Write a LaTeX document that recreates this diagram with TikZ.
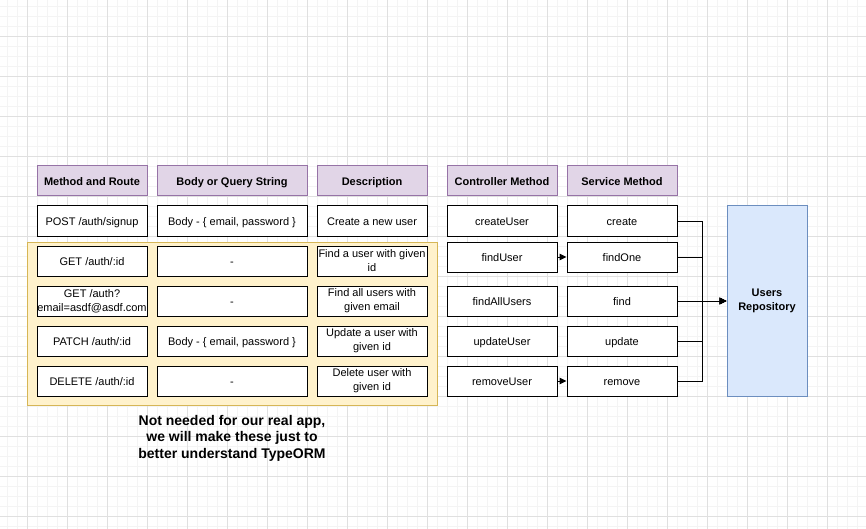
\documentclass[tikz,border=0pt]{standalone}
\usepackage{fontspec}
\setmainfont{Liberation Sans}
\usetikzlibrary{arrows.meta}
\definecolor{hdrfill}{HTML}{E1D5E7}
\definecolor{hdrdraw}{HTML}{9673A6}
\definecolor{yelfill}{HTML}{FFF2CC}
\definecolor{yeldraw}{HTML}{D6B656}
\definecolor{repfill}{HTML}{DAE8FC}
\definecolor{repdraw}{HTML}{6C8EBF}
\definecolor{gridmajor}{HTML}{E0E0E0}
\definecolor{gridminor}{HTML}{F4F4F4}
\newcommand\cellstrut{\rule[-1.6pt]{0pt}{12.6pt}}
\newcommand\cellfont{\fontsize{11}{14}\selectfont\lineskiplimit=-20pt\relax}
\tikzset{
  cell/.style={draw=black, fill=white, line width=1pt, inner sep=0pt, align=center,
    font=\cellfont, minimum height=30pt, minimum width=#1,
    execute at begin node=\cellstrut, execute at end node=\cellstrut},
  hdr/.style={cell=#1, fill=hdrfill, draw=hdrdraw, font=\cellfont\bfseries},
  conn/.style={draw=black, line width=1pt, -{Triangle[length=7pt,width=6.5pt]}},
}
\begin{document}
\begin{tikzpicture}[x=1pt,y=-1pt]
\useasboundingbox (0,0) rectangle (866,529);
\fill[white] (0,0) rectangle (866,529);
% grid
\foreach \x in {7,17,...,866} \draw[gridminor, line width=0.8pt] (\x,0) -- (\x,529);
\foreach \y in {6,16,...,529} \draw[gridminor, line width=0.8pt] (0,\y) -- (866,\y);
\foreach \x in {27,67,...,866} \draw[gridmajor, line width=0.8pt] (\x,0) -- (\x,529);
\foreach \y in {36,76,...,529} \draw[gridmajor, line width=0.8pt] (0,\y) -- (866,\y);
% yellow background
\node[draw=yeldraw, fill=yelfill, line width=1pt, minimum width=410pt, minimum height=163pt, inner sep=0pt] (yellow) at (232,324) {};
% headers
\node[hdr=110pt] (h1) at (92,181) {Method and Route};
\node[hdr=150pt] (h2) at (232,181) {Body or Query String};
\node[hdr=110pt] (h3) at (372,181) {Description};
\node[hdr=110pt] (h4) at (502,181) {Controller Method};
\node[hdr=110pt] (h5) at (622,181) {Service Method};
% row 1
\node[cell=110pt] (r1a) at (92,221) {POST /auth/signup};
\node[cell=150pt] (r1b) at (232,221) {Body - \{ email, password \}};
\node[cell=110pt] (r1c) at (372,221) {Create a new user};
\node[cell=110pt] (r1d) at (502,221) {createUser};
\node[cell=110pt] (r1e) at (622,221) {create};
% row 2
\node[cell=110pt] (r2a) at (92,261) {GET /auth/:id};
\node[cell=150pt] (r2b) at (232,261) {-};
\node[cell=110pt] (r2c) at (372,261) {Find a user with given\\id};
\node[cell=110pt] (r2d) at (502,257) {findUser};
\node[cell=110pt] (r2e) at (622,257) {findOne};
% row 3
\node[cell=110pt] (r3a) at (92,301) {GET /auth?\\email=asdf@asdf.com};
\node[cell=150pt] (r3b) at (232,301) {-};
\node[cell=110pt] (r3c) at (372,301) {Find all users with\\given email};
\node[cell=110pt] (r3d) at (502,301) {findAllUsers};
\node[cell=110pt] (r3e) at (622,301) {find};
% row 4
\node[cell=110pt] (r4a) at (92,341) {PATCH /auth/:id};
\node[cell=150pt] (r4b) at (232,341) {Body - \{ email, password \}};
\node[cell=110pt] (r4c) at (372,341) {Update a user with\\given id};
\node[cell=110pt] (r4d) at (502,341) {updateUser};
\node[cell=110pt] (r4e) at (622,341) {update};
% row 5
\node[cell=110pt] (r5a) at (92,381) {DELETE /auth/:id};
\node[cell=150pt] (r5b) at (232,381) {-};
\node[cell=110pt] (r5c) at (372,381) {Delete user with\\given id};
\node[cell=110pt] (r5d) at (502,381) {removeUser};
\node[cell=110pt] (r5e) at (622,381) {remove};
% repository
\node[cell=80pt, draw=repdraw, fill=repfill, minimum height=190pt,
  font=\cellfont\bfseries] (repo) at (767,301) {Users\\Repository};
% note
\node[align=center, inner sep=0pt, font=\fontsize{14}{16.5}\selectfont\bfseries] (note) at (232,438)
  {Not needed for our real app,\\we will make these just to\\better understand TypeORM};
% connectors
\coordinate (bus) at (702,301);
\draw[conn] (r2d) -- (r2e);
\draw[conn] (r5d) -- (r5e);
\draw[conn] (r1e.east) -| (bus) -- (repo.west);
\draw[conn] (r2e.east) -| (bus) -- (repo.west);
\draw[conn] (r3e.east) -- (repo.west);
\draw[conn] (r4e.east) -| (bus) -- (repo.west);
\draw[conn] (r5e.east) -| (bus) -- (repo.west);
\end{tikzpicture}
\end{document}
